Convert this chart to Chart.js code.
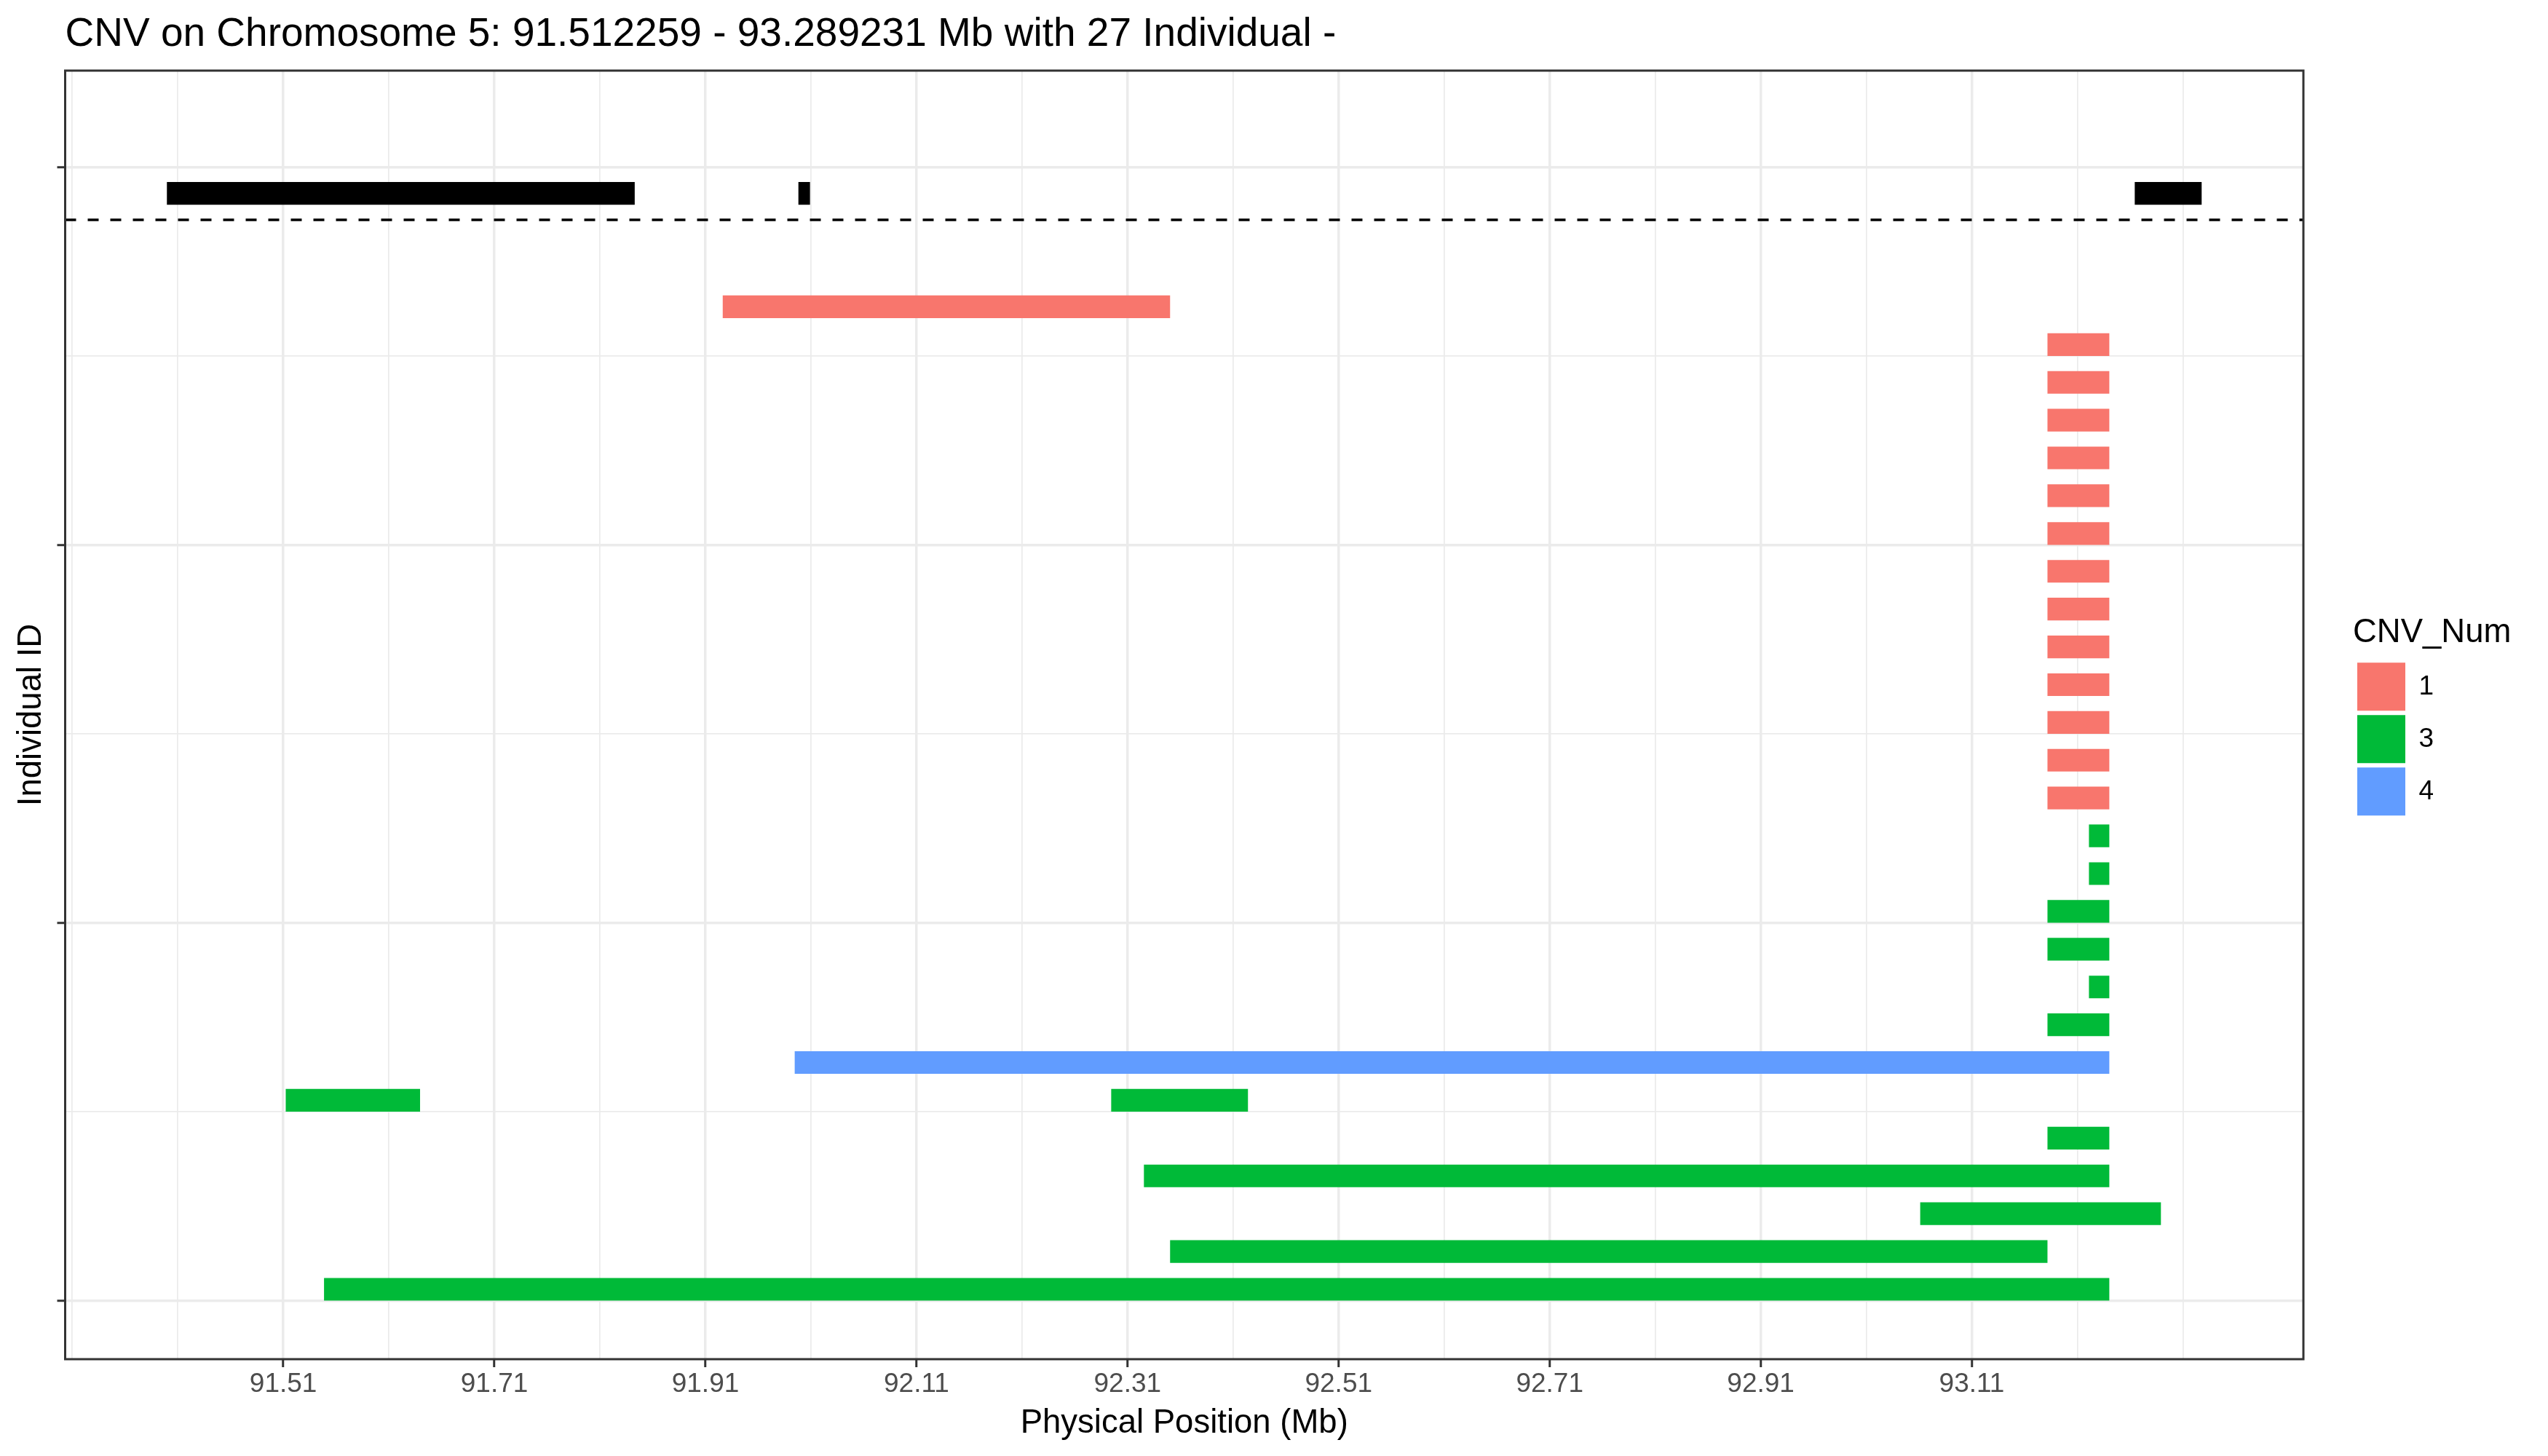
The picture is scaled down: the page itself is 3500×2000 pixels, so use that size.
<!DOCTYPE html>
<html>
<head>
<meta charset="utf-8">
<script src="https://cdn.jsdelivr.net/npm/chart.js@4.4.1/dist/chart.umd.min.js"></script>
<style>
html, body { margin: 0; padding: 0; background: #ffffff; }
#wrap { width: 3500px; height: 2000px; }
canvas { display: block; }
</style>
</head>
<body>
<div id="wrap"><canvas id="c" width="3500" height="2000"></canvas></div>
<script>
// ---------------- text ----------------
const chartTitle = "CNV on Chromosome 5: 91.512259 - 93.289231 Mb with 27 Individual -";
const xAxisTitle = "Physical Position (Mb)";
const yAxisTitle = "Individual ID";
const legendTitle = "CNV_Num";

// ---------------- categories ----------------
const cnvLevels = [1, 3, 4];
const cnvColors = ["#F8766D", "#00BA38", "#619CFF"];

// ---------------- CNV segments (row 0 = bottom individual) ----------------
const segRow = [26, 25, 24, 23, 22, 21, 20, 19, 18, 17, 16, 15, 14, 13,
                12, 11, 10, 9, 8, 7, 6, 5, 5, 4, 3, 2, 1, 0];
const segStart = [91.9264, 93.1817, 93.1817, 93.1817, 93.1817, 93.1817, 93.1817, 93.1817,
                  93.1817, 93.1817, 93.1817, 93.1817, 93.1817, 93.1817,
                  93.2210, 93.2210, 93.1817, 93.1817, 93.2210, 93.1817, 91.9946,
                  91.5123, 92.2945, 93.1817, 92.3255, 93.0611, 92.3503, 91.5486];
const segEnd = [92.3503, 93.2403, 93.2403, 93.2403, 93.2403, 93.2403, 93.2403, 93.2403,
                93.2403, 93.2403, 93.2403, 93.2403, 93.2403, 93.2403,
                93.2403, 93.2403, 93.2403, 93.2403, 93.2403, 93.2403, 93.2403,
                91.6396, 92.4241, 93.2403, 93.2403, 93.2892, 93.1817, 93.2403];
const segCnv = [1, 1, 1, 1, 1, 1, 1, 1, 1, 1, 1, 1, 1, 1,
                3, 3, 3, 3, 3, 3, 4, 3, 3, 3, 3, 3, 3, 3];

// ---------------- gene track ----------------
const geneStart = [91.3997, 91.9981, 93.2644];
const geneEnd = [91.8430, 92.0091, 93.3278];
const geneRow = 29;
const dividerY = 28.6;
const yDataRange = [0, 31];

// ---------------- ticks ----------------
const xMajorTicks = [91.51, 91.71, 91.91, 92.11, 92.31, 92.51, 92.71, 92.91, 93.11];
const xTickLabels = ["91.51", "91.71", "91.91", "92.11", "92.31", "92.51", "92.71", "92.91", "93.11"];
const xMinorTicks = [91.31, 91.41, 91.61, 91.81, 92.01, 92.21, 92.41, 92.61, 92.81, 93.01, 93.21, 93.31];
const yMajorTicks = [0, 10, 20, 30];
const yMinorTicks = [5, 15, 25];

// ---------------- derived (ggplot-like 5% expansion) ----------------
const expand = 0.05;
const xLo = Math.min(...segStart, ...geneStart);
const xHi = Math.max(...segEnd, ...geneEnd);
const xMin = xLo - expand * (xHi - xLo);
const xMax = xHi + expand * (xHi - xLo);
const yMin = yDataRange[0] - expand * (yDataRange[1] - yDataRange[0]);
const yMax = yDataRange[1] + expand * (yDataRange[1] - yDataRange[0]);
const barFrac = 0.6;

const FONT = "'Liberation Sans', Arial, Helvetica, sans-serif";
Chart.defaults.font.family = FONT;

const near = (arr, v) => arr.some(t => Math.abs(t - v) < 1e-6);
const GRID = '#EBEBEB';
const AXIS = '#333333';
const LEGEND_WIDTH = 268;

const cnvDatasets = cnvLevels.map((lvl, li) => ({
  type: 'bar',
  label: String(lvl),
  indexAxis: 'y',
  xAxisID: 'x',
  yAxisID: 'y',
  data: segRow.map((r, i) => segCnv[i] === lvl ? { x: [segStart[i], segEnd[i]], y: r + barFrac / 2 } : null).filter(Boolean),
  backgroundColor: cnvColors[li],
  borderColor: cnvColors[li],
  borderWidth: 0,
  grouped: false,
  barPercentage: barFrac,
  categoryPercentage: 1
}));

const geneDataset = {
  type: 'bar',
  label: 'gene',
  indexAxis: 'y',
  xAxisID: 'x',
  yAxisID: 'y',
  data: geneStart.map((s, i) => ({ x: [s, geneEnd[i]], y: geneRow + barFrac / 2 })),
  backgroundColor: '#000000',
  borderColor: '#000000',
  borderWidth: 0,
  grouped: false,
  barPercentage: barFrac,
  categoryPercentage: 1
};

const dividerDataset = {
  type: 'line',
  label: 'divider',
  indexAxis: 'x',
  xAxisID: 'x',
  yAxisID: 'y',
  data: [{ x: xMin, y: dividerY }, { x: xMax, y: dividerY }],
  borderColor: '#000000',
  borderWidth: 3.5,
  borderDash: [15, 16],
  pointRadius: 0,
  fill: false,
  tension: 0
};

const panelPlugin = {
  id: 'panel',
  beforeLayout(chart) {
    const lg = chart.legend;
    if (lg && !lg.__wide) {
      const fit = lg.fit.bind(lg);
      lg.fit = function () { fit(); this.width = Math.max(this.width, LEGEND_WIDTH); };
      lg.__wide = true;
    }
  },
  beforeDraw(chart) {
    const ctx = chart.ctx;
    ctx.save();
    ctx.fillStyle = '#ffffff';
    ctx.fillRect(0, 0, chart.width, chart.height);
    ctx.restore();
  },
  afterDraw(chart) {
    const { ctx, chartArea: a } = chart;
    ctx.save();
    ctx.strokeStyle = AXIS;
    ctx.lineWidth = 3;
    ctx.strokeRect(a.left, a.top, a.right - a.left, a.bottom - a.top);
    ctx.restore();
  }
};

new Chart(document.getElementById('c'), {
  type: 'bar',
  data: { datasets: [...cnvDatasets, geneDataset, dividerDataset] },
  plugins: [panelPlugin],
  options: {
    responsive: false,
    animation: false,
    devicePixelRatio: 1,
    indexAxis: 'y',
    layout: { padding: { left: 0, right: 0, top: 0, bottom: 0 }, autoPadding: false },
    scales: {
      x: {
        type: 'linear',
        position: 'bottom',
        offset: false,
        beginAtZero: false,
        min: xMin,
        max: xMax,
        afterBuildTicks: s => {
          s.ticks = [...xMajorTicks, ...xMinorTicks].sort((a, b) => a - b).map(v => ({ value: v }));
        },
        afterFit: s => { s.height = 133; },
        border: { display: false },
        grid: {
          offset: false,
          color: GRID,
          lineWidth: c => (c.tick && near(xMajorTicks, c.tick.value)) ? 3.5 : 1.75,
          tickColor: c => (c.tick && near(xMajorTicks, c.tick.value)) ? AXIS : 'rgba(0,0,0,0)',
          tickWidth: 3,
          tickLength: 11,
          drawTicks: true
        },
        ticks: {
          autoSkip: false,
          maxRotation: 0,
          minRotation: 0,
          padding: 2,
          color: '#4D4D4D',
          font: { size: 37 },
          callback: v => {
            const i = xMajorTicks.findIndex(t => Math.abs(t - v) < 1e-6);
            return i >= 0 ? xTickLabels[i] : '';
          }
        },
        title: {
          display: true,
          text: xAxisTitle,
          color: '#000000',
          font: { size: 45.5 },
          padding: { top: 0, bottom: 17 }
        }
      },
      y: {
        type: 'linear',
        position: 'left',
        offset: false,
        min: yMin,
        max: yMax,
        afterBuildTicks: s => {
          s.ticks = [...yMajorTicks, ...yMinorTicks].sort((a, b) => a - b).map(v => ({ value: v }));
        },
        afterFit: s => { s.width = 89.5; },
        border: { display: false },
        grid: {
          offset: false,
          color: GRID,
          lineWidth: c => (c.tick && near(yMajorTicks, c.tick.value)) ? 3.5 : 1.75,
          tickColor: c => (c.tick && near(yMajorTicks, c.tick.value)) ? AXIS : 'rgba(0,0,0,0)',
          tickWidth: 3,
          tickLength: 11,
          drawTicks: true
        },
        ticks: {
          autoSkip: false,
          padding: 0,
          font: { size: 37 },
          callback: () => ''
        },
        title: {
          display: true,
          text: yAxisTitle,
          color: '#000000',
          font: { size: 45.5 },
          padding: { top: 16, bottom: 0 }
        }
      },
      y2: {
        type: 'linear',
        position: 'right',
        display: true,
        offset: false,
        grid: { display: false, drawTicks: false },
        border: { display: false },
        ticks: { display: false },
        afterFit: s => { s.width = 68; }
      }
    },
    plugins: {
      title: {
        display: true,
        text: chartTitle,
        align: 'start',
        fullSize: false,
        color: '#000000',
        font: { size: 55, weight: 'normal' },
        padding: { top: 15, bottom: 16 }
      },
      legend: {
        display: true,
        position: 'right',
        align: 'center',
        fullSize: false,
        title: {
          display: true,
          text: legendTitle,
          position: 'start',
          color: '#000000',
          font: { size: 45.5 },
          padding: { top: 9, bottom: 3 }
        },
        labels: {
          boxWidth: 66,
          boxHeight: 66,
          padding: 6,
          color: '#000000',
          font: { size: 37 },
          filter: item => item.datasetIndex < cnvLevels.length
        }
      },
      tooltip: { enabled: false }
    }
  }
});
</script>
</body>
</html>
